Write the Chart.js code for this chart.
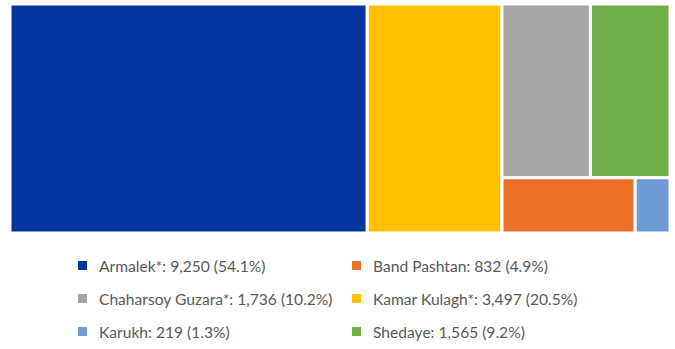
<!DOCTYPE html>
<html><head><meta charset="utf-8">
<script src="https://cdn.jsdelivr.net/npm/chart.js@4/dist/chart.umd.min.js"></script>
<style>
html,body{margin:0;padding:0;background:#fff;}
#wrap{position:relative;width:675px;height:349px;overflow:hidden;}
#cv{position:absolute;left:0;top:0;}
.lg{position:absolute;font-family:Lato,"Open Sans",sans-serif;font-size:15.6px;color:#595959;white-space:nowrap;line-height:18px;}
.lg i{position:absolute;width:9px;height:9px;}
</style></head>
<body><div id="wrap"><div style="position:absolute;left:0;top:0;width:675px;height:238px;"><canvas id="cv"></canvas></div><div id="legend"></div></div>
<script>
// ---- data ----
const categories = ['Armalek*', 'Band Pashtan', 'Chaharsoy Guzara*', 'Kamar Kulagh*', 'Karukh', 'Shedaye'];
const values = [9250, 832, 1736, 3497, 219, 1565];
const colors = ['#0135A0', '#EB7128', '#A5A5A5', '#FFC000', '#6E9BD6', '#6FAD46'];
// nested slice layout (indices into categories): 'h' = side by side, 'v' = stacked
const layoutTree = ['h', 0, 3, ['v', ['h', 2, 5], ['h', 1, 4]]];

const total = values.reduce((a, b) => a + b, 0);
function nodeSum(n) { return typeof n === 'number' ? values[n] : n.slice(1).reduce((a, c) => a + nodeSum(c), 0); }
const rects = [];
function layout(n, x0, y0, x1, y1) {
  if (typeof n === 'number') { rects[n] = [x0, y0, x1, y1]; return; }
  const dir = n[0], kids = n.slice(1), s = nodeSum(n);
  let pos = dir === 'h' ? x0 : y1;
  kids.forEach(k => {
    const f = nodeSum(k) / s;
    if (dir === 'h') { const w = (x1 - x0) * f; layout(k, pos, y0, pos + w, y1); pos += w; }
    else { const h = (y1 - y0) * f; layout(k, x0, pos - h, x1, pos); pos -= h; }
  });
}
layout(layoutTree, 0, 0, 100, 100);

const datasets = categories.map((c, i) => {
  const [x0, y0, x1, y1] = rects[i];
  return {
    label: c,
    data: [{x: x0, y: y0}, {x: x1, y: y0}, {x: x1, y: y1}, {x: x0, y: y1}, {x: x0, y: y0}],
    showLine: true, fill: 'shape', tension: 0,
    backgroundColor: colors[i], borderColor: '#ffffff', borderWidth: 3,
    pointRadius: 0, pointHoverRadius: 0, borderJoinStyle: 'miter'
  };
});

new Chart(document.getElementById('cv'), {
  type: 'scatter',
  data: { datasets },
  options: {
    responsive: true, maintainAspectRatio: false, animation: false,
    layout: { padding: { left: 10, right: 5, top: 4, bottom: 5 } },
    plugins: { legend: { display: false }, tooltip: { enabled: false } },
    scales: {
      x: { type: 'linear', min: 0, max: 100, display: false },
      y: { type: 'linear', min: 0, max: 100, display: false }
    }
  }
});

// ---- legend (2 columns, row-major) ----
const lg = document.getElementById('legend');
const colX = [78, 352], rowY = [266, 299, 332];
categories.forEach((c, i) => {
  const col = i % 2, row = Math.floor(i / 2);
  const pct = (values[i] / total * 100).toFixed(1);
  const d = document.createElement('div');
  d.className = 'lg';
  d.style.left = colX[col] + 'px';
  d.style.top = (rowY[row] - 9) + 'px';
  d.innerHTML = '<i style="left:0;top:4px;background:' + colors[i] + '"></i><span style="margin-left:21px">' +
    c + ': ' + values[i].toLocaleString('en-US') + ' (' + pct + '%)</span>';
  lg.appendChild(d);
});
</script>
</body></html>
